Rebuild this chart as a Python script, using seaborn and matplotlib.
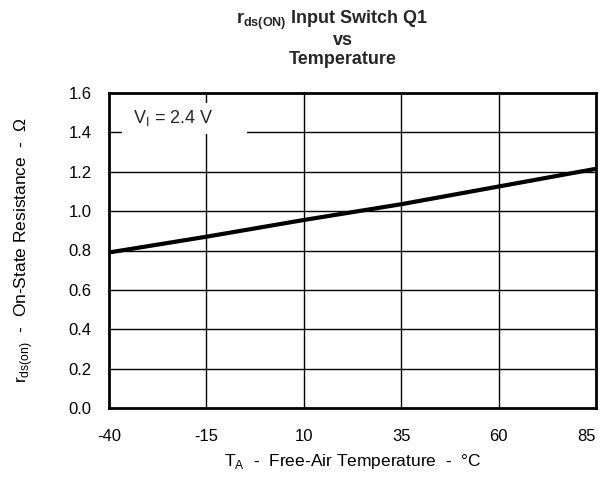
import matplotlib
matplotlib.use("Agg")
import matplotlib.pyplot as plt
from matplotlib.patches import Rectangle
import seaborn as sns
import pandas as pd

temps = [-40, -15, 10, 35, 60, 85]
rds_on = [0.79, 0.87, 0.955, 1.035, 1.125, 1.215]
x_ticks = [-40, -15, 10, 35, 60, 85]
y_ticks = [0.0, 0.2, 0.4, 0.6, 0.8, 1.0, 1.2, 1.4, 1.6]

sns.set_theme(style="white")
plt.rcParams['font.family'] = ['Liberation Sans', 'DejaVu Sans']
plt.rcParams['mathtext.fontset'] = 'custom'
plt.rcParams['mathtext.rm'] = 'Liberation Sans'
plt.rcParams['mathtext.bf'] = 'Liberation Sans:bold'

df = pd.DataFrame({"T": temps, "R": rds_on})

fig = plt.figure(figsize=(6.03, 4.87), dpi=100)
ax = fig.add_axes([109/603, 1-408/487, (596-109)/603, (408-93)/487])

for xv in x_ticks[1:-1]:
    ax.axvline(xv, color="black", lw=1.0, zorder=1)
for yv in y_ticks[1:-1]:
    ax.axhline(yv, color="black", lw=1.0, zorder=1)

sns.lineplot(data=df, x="T", y="R", ax=ax, color="black", lw=3, zorder=3)

ax.set_xlim(-40, 85)
ax.set_ylim(0, 1.6)
ax.set_xticks(x_ticks)
ax.set_xticklabels([str(v) for v in x_ticks], fontsize=12)
ax.set_yticks(y_ticks)
ax.set_yticklabels([f"{v:.1f}" for v in y_ticks], fontsize=12)
ax.tick_params(axis="x", length=0, pad=15, colors="black")
ax.tick_params(axis="y", length=0, pad=12.5, colors="black")
ax.get_xticklabels()[-1].set_horizontalalignment("right")
for s in ax.spines.values():
    s.set_color("black")
    s.set_linewidth(2)

ax.set_xlabel(r"T$_\mathregular{A}$  -  Free-Air Temperature  -  °C", fontsize=12.5, labelpad=6, color="black")
ax.set_ylabel(r"r$_\mathregular{ds(on)}$  -  On-State Resistance  -  Ω", fontsize=12.5, labelpad=24, color="black")

ax.add_patch(Rectangle((13/487, (408-134)/315), 125/487, 31/315, transform=ax.transAxes,
                       facecolor="white", edgecolor="none", zorder=1.5))
ax.text(24/487, (408-118)/315, r"V$_\mathregular{I}$ = 2.4 V", fontsize=13, va="center", ha="left",
        transform=ax.transAxes, zorder=1.6)

fig.text(332/603, 1-24/487, r"r$_\mathbf{ds(ON)}$ Input Switch Q1", fontsize=13, fontweight="bold", ha="center", va="baseline")
fig.text(343/603, 1-45/487, "vs", fontsize=13, fontweight="bold", ha="center", va="baseline")
fig.text(343/603, 1-64/487, "Temperature", fontsize=13, fontweight="bold", ha="center", va="baseline")

fig.savefig("out.png", dpi=100, facecolor="white")
